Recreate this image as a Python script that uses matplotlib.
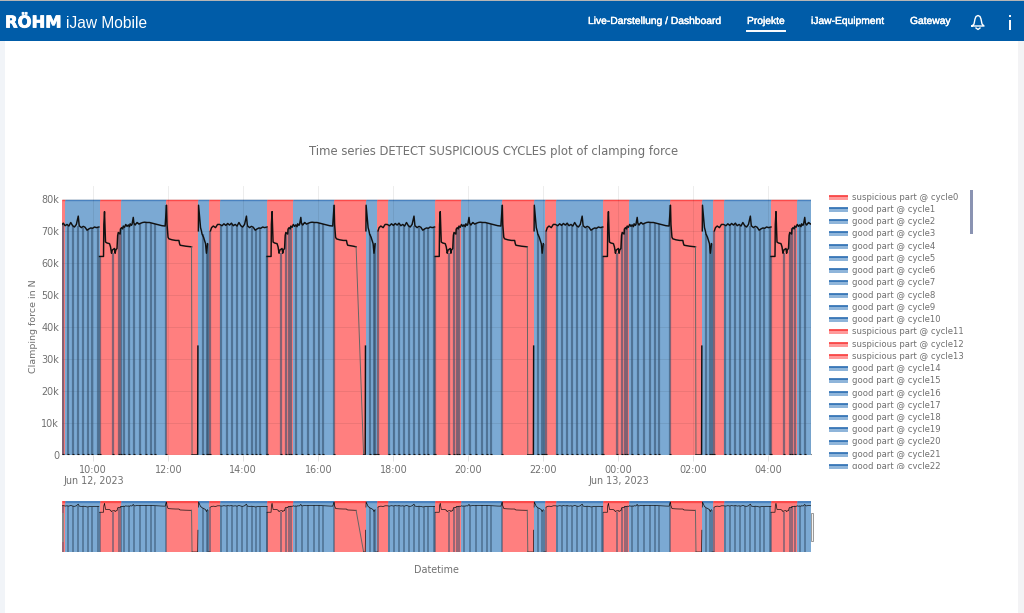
import numpy as np
import pandas as pd
import matplotlib
matplotlib.use('Agg')
import matplotlib.pyplot as plt
import matplotlib.dates as mdates
import matplotlib.patheffects as pe
from matplotlib.patches import Rectangle

# red/blue spans of the chart, cut points in time
span_edges = ['2023-06-12 09:10', '2023-06-12 09:14', '2023-06-12 10:10', '2023-06-12 10:45',
              '2023-06-12 11:56', '2023-06-12 12:48', '2023-06-12 13:05', '2023-06-12 13:22',
              '2023-06-12 14:38', '2023-06-12 15:20', '2023-06-12 16:25', '2023-06-12 17:16',
              '2023-06-12 17:34', '2023-06-12 17:51', '2023-06-12 19:07', '2023-06-12 19:48',
              '2023-06-12 20:53', '2023-06-12 21:45', '2023-06-12 22:02', '2023-06-12 22:20',
              '2023-06-12 23:36', '2023-06-13 00:17', '2023-06-13 01:22', '2023-06-13 02:14',
              '2023-06-13 02:31', '2023-06-13 02:49', '2023-06-13 04:04', '2023-06-13 04:46',
              '2023-06-13 05:08']
span_state = ['s', 'g', 's', 'g', 's', 'g', 's', 'g', 's', 'g', 's', 'g', 's', 'g',
              's', 'g', 's', 'g', 's', 'g', 's', 'g', 's', 'g', 's', 'g', 's', 'g']
span_top = 79500

# the pattern repeats in the picture, so it is read once in minutes after each start
period_start = ['2023-06-12 05:41', '2023-06-12 10:10', '2023-06-12 14:38',
                '2023-06-12 19:07', '2023-06-12 23:36', '2023-06-13 04:04']
plateau_end = [147.2, 147.2, 142.4, 147.2, 147.2, 147.2]
drop_zero = [148, 148, 154.4, 148, 148, 148]

head_min = [0, 6.4, 6.9, 8, 9.6, 12, 16, 17.6, 19.2, 20.5, 24, 25, 26, 28, 29, 30, 33, 33.5,
            35.2, 37, 38, 40, 42, 44, 46, 48, 49, 51, 52, 54, 55, 57, 58, 60, 61, 63, 65, 69, 72, 76, 80, 84, 88, 92, 96, 100, 105,
            107.2, 108, 109.6, 111, 116, 122, 127, 128, 129, 138]
head_force = [62, 62, 72, 76, 66.5, 66.2, 66, 65, 63, 64, 64.5, 63, 64, 64.5, 68.5, 69.5, 69, 70.5,
              71, 70.6, 71.5, 71.1, 72, 71.4, 71.8, 71.3, 72.2, 71.7, 72, 74.2, 72.4, 71.8, 72.1, 72.6, 72.5, 72.1, 72.3, 72.6, 72.7, 72.6, 72.6, 72.4, 72.2, 72, 71.8, 71.6, 71.5,
              78, 72, 68, 67.5, 67.2, 67, 67, 66, 65.5, 65.2]

# nan leaves the gaps where the reference shows no line
tail_min = [157, 157.4, 157.6, 158.1, 158.4, 161.6, 163, 164, 166.4, 169.6, 171, 172.8, 173, 173.6, 176.8, 177.2,
            177.5, 179.2, 182, 185.6, 188.8, 192, 196, 199, 202, 205, 208, 211, 214, 217, 220,
            223, 226, 229, 232, 235, 236.5, 240, 243, 246, 249, 252, 255, 258, 261, 264, 268]
tail_force = [0, 34, np.nan, 70, 78, 71, 70, 69, 68, 66, 63, 66, np.nan, 0, 0, np.nan,
              70, 71, 71.5, 71, 72, 72, 71.6, 72.2, 71.7, 72.3, 71.8, 72.4, 71.6, 72, 71.5,
              72.6, 71.6, 71.2, 72, 74.6, 71.6, 71, 71.4, 71.1, 70.2, 70.6, 70.9, 70.8, 71.2, 71, 71.2]

dip_min = [0, 21.6, 30.4, 34.4, 38.4, 46.4, 55.2, 64.8, 74.4, 82.4, 88.8, 106.4, 164.8, 171.2, 173.4, 177.2,
           194.4, 203.2, 211.2, 219.2, 227.2, 235.2, 243.2, 250.4, 256.8, 267.2]
dip_top = [62, 63, 69, 71, 71.5, 72, 72, 72.5, 72.5, 72.5, 72, 78, 69, 65, 66, 70,
           71.6, 72, 72, 71.5, 71.5, 71.6, 71, 70.5, 70.8, 71]

y_ticks = [0, 10000, 20000, 30000, 40000, 50000, 60000, 70000, 80000]
y_labels = ['0', '10k', '20k', '30k', '40k', '50k', '60k', '70k', '80k']
x_ticks = ['2023-06-12 10:00', '2023-06-12 12:00', '2023-06-12 14:00', '2023-06-12 16:00',
           '2023-06-12 18:00', '2023-06-12 20:00', '2023-06-12 22:00', '2023-06-13 00:00',
           '2023-06-13 02:00', '2023-06-13 04:00']
x_labels = ['10:00\nJun 12, 2023', '12:00', '14:00', '16:00', '18:00', '20:00', '22:00',
            '00:00\nJun 13, 2023', '02:00', '04:00']

legend_names = ['suspicious part @ cycle0', 'good part @ cycle1', 'good part @ cycle2', 'good part @ cycle3',
                'good part @ cycle4', 'good part @ cycle5', 'good part @ cycle6', 'good part @ cycle7',
                'good part @ cycle8', 'good part @ cycle9', 'good part @ cycle10', 'suspicious part @ cycle11',
                'suspicious part @ cycle12', 'suspicious part @ cycle13', 'good part @ cycle14',
                'good part @ cycle15', 'good part @ cycle16', 'good part @ cycle17', 'good part @ cycle18',
                'good part @ cycle19', 'good part @ cycle20', 'good part @ cycle21', 'good part @ cycle22']

nav_items = ['Live-Darstellung / Dashboard', 'Projekte', 'iJaw-Equipment', 'Gateway']
nav_x = [588, 747, 811, 910]

RED = '#ff7f7f'
BLUE = '#7ba9d3'
GREY = '#707070'
HEADER = '#005ca8'
W, H = 1024, 613


def to_num(s):
    return mdates.date2num(pd.to_datetime(s))


def px_axes(fig, left, top, right, bottom):
    return fig.add_axes([left / W, 1 - bottom / H, (right - left) / W, (bottom - top) / H])


def draw_chart(ax, top_lw, line_lw, dip_lw, specks=True):
    edges = to_num(span_edges)
    for i, state in enumerate(span_state):
        col = RED if state == 's' else BLUE
        edge = '#fb4a4a' if state == 's' else '#4a82bf'
        ax.bar(edges[i], span_top, width=edges[i + 1] - edges[i], align='edge', color=col, linewidth=0, zorder=1)
        ax.plot([edges[i], edges[i + 1]], [span_top, span_top], color=edge, lw=top_lw, solid_capstyle='butt', zorder=2)

    for k, start in enumerate(period_start):
        t0 = to_num(start)
        ax.vlines(t0 + np.array(dip_min) / 1440, 0, np.array(dip_top) * 1000,
                  color='#34506c', alpha=0.6, lw=dip_lw, zorder=3)
        ax.plot(t0 + np.array(head_min + [plateau_end[k]]) / 1440,
                np.array(head_force + [65]) * 1000, color='#111111', lw=line_lw, zorder=4)
        ax.plot(t0 + np.array([plateau_end[k], drop_zero[k]]) / 1440, [65000, 0],
                color='#666666', lw=0.7, zorder=4)
        ax.plot(t0 + np.array([drop_zero[k]] + tail_min) / 1440,
                np.array([0] + tail_force) * 1000, color='#111111', lw=line_lw, zorder=4)
        if specks:
            ax.plot(t0 + np.array(dip_min) / 1440, [350] * len(dip_min), ls='', marker='_',
                    ms=2, mew=0.8, color='#111111', zorder=4)
    ax.set_xlim(edges[0], edges[-1])


fig = plt.figure(figsize=(W / 100, H / 100), dpi=100, facecolor='white')

# page around the chart
page = fig.add_axes([0, 0, 1, 1])
page.set_xlim(0, W)
page.set_ylim(H, 0)
page.axis('off')
page.add_patch(Rectangle((0, 1), W, 40, color=HEADER, lw=0))
page.add_patch(Rectangle((0, 0), W, 1, color='#b5b5b5', lw=0))
page.add_patch(Rectangle((0, 41), 5, H, color='#f1f4f8', lw=0))
page.add_patch(Rectangle((1018, 41), 6, H, color='#f3f3f5', lw=0))
page.text(5, 23, 'RÖHM', color='white', fontsize=11.8, fontweight='bold', family='DejaVu Sans', va='center',
          path_effects=[pe.withStroke(linewidth=0.6, foreground='white')])
page.text(66, 24, 'iJaw Mobile', color='white', fontsize=11.2, family='Liberation Sans', va='center')
for name, x in zip(nav_items, nav_x):
    page.text(x, 21, name, color='white', fontsize=7.4, family='Liberation Sans', va='center',
              path_effects=[pe.withStroke(linewidth=0.3, foreground='white')])
page.plot([747, 785], [30.5, 30.5], color='white', lw=1.4)
page.plot([972, 974, 975, 976, 978, 980, 981, 982, 984, 972],
          [26, 24, 19, 16.5, 15.5, 16.5, 19, 24, 26, 26], color='white', lw=1.0)
page.plot([976, 978, 980], [28, 29.5, 28], color='white', lw=1.0)
page.plot([1010, 1010], [19.5, 30], color='white', lw=1.4, solid_capstyle='butt')
page.plot([1010, 1010], [14.5, 16.5], color='white', lw=1.4, solid_capstyle='butt')

page.text(494, 151, 'Time series DETECT SUSPICIOUS CYCLES plot of clamping force', color=GREY,
          fontsize=8.35, ha='center', va='center')
page.text(34, 326, 'Clamping force in N', color=GREY, fontsize=6.8, rotation=90, ha='center', va='center')
page.text(436, 570, 'Datetime', color=GREY, fontsize=6.9, ha='center', va='center')
page.add_patch(Rectangle((969.5, 190), 3.5, 44, fc='#8a93b2', ec='none'))

# main plot
ax = px_axes(fig, 62, 186, 811, 455)
ax.patch.set_alpha(0)
draw_chart(ax, 1.0, 1.05, 1.6)
ax.set_ylim(0, 84000)
ax.set_yticks(y_ticks)
ax.set_yticklabels(y_labels)
ax.set_xticks(to_num(x_ticks))
ax.set_xticklabels(x_labels, linespacing=1.15)
ax.tick_params(axis='y', length=0, pad=2, labelsize=6.9, labelcolor=GREY)
ax.tick_params(axis='x', length=4, width=0.6, color='#dddddd', pad=3, labelsize=6.9, labelcolor=GREY)
ax.grid(True, color='black', alpha=0.07, lw=0.7)
ax.set_axisbelow(False)
for side in ax.spines:
    ax.spines[side].set_visible(False)
ax.axhline(0, color='#8a8a8a', lw=0.8, zorder=5)

# range slider
rs = px_axes(fig, 62, 501, 811, 552)
rs.patch.set_alpha(0)
draw_chart(rs, 2.4, 0.5, 1.2, specks=False)
rs.set_ylim(0, span_top)
rs.axis('off')

# slider grips sit over the chart
top = fig.add_axes([0, 0, 1, 1], zorder=10)
top.patch.set_alpha(0)
top.set_xlim(0, W)
top.set_ylim(H, 0)
top.axis('off')
top.add_patch(Rectangle((61.5, 513), 1.5, 28, fc='#f4f4f4', ec='#888888', lw=0.7))
top.add_patch(Rectangle((810.5, 513), 2, 28, fc='#f4f4f4', ec='#999999', lw=0.7))

# legend, clipped like the scrolling box in the reference
lg = px_axes(fig, 825, 190, 968, 468.5)
lg.set_xlim(825, 968)
lg.set_ylim(468.5, 190)
lg.axis('off')
for i, name in enumerate(legend_names):
    y = 196.7 + i * 12.24
    bad = name.startswith('suspicious')
    lg.add_patch(Rectangle((829, y - 1), 19, 4, color='#ff9a9a' if bad else '#8fb5da', lw=0))
    lg.plot([829, 848], [y - 1, y - 1], color='#f83a3a' if bad else '#2a6cb2', lw=1.2, solid_capstyle='butt')
    lg.text(852, y + 0.5, name, color=GREY, fontsize=6.15, va='center', clip_on=True)

fig.savefig('out.png', dpi=100)
